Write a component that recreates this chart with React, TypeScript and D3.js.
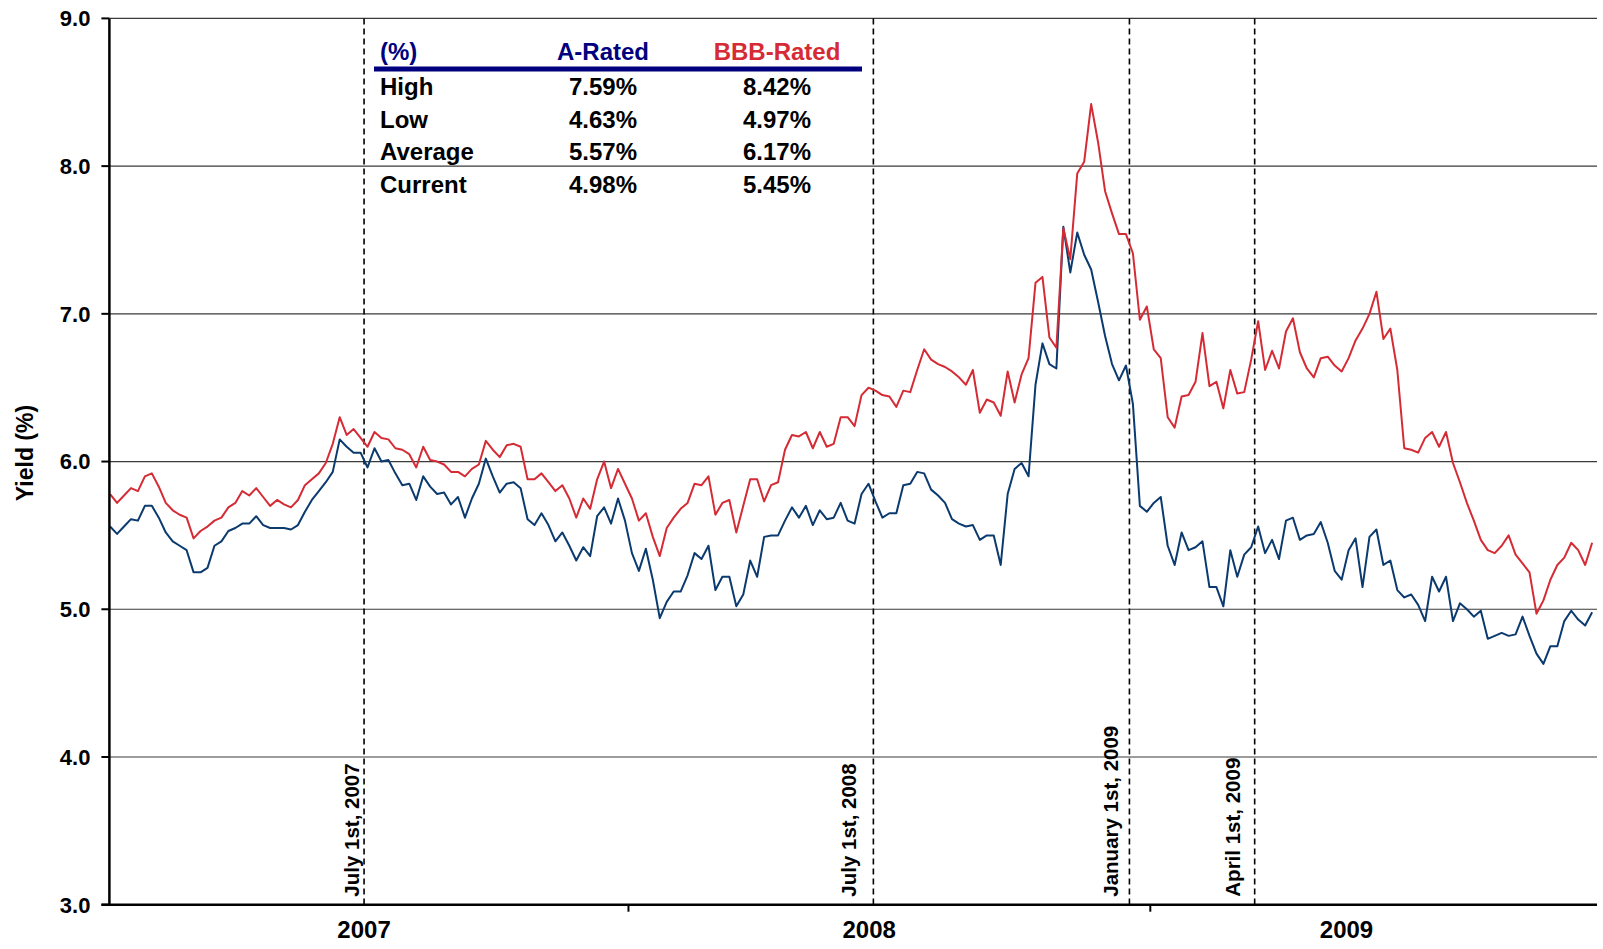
import React from "react";
import * as d3 from "d3";

// A-Rated / BBB-Rated corporate yields (%), one reading every 5 days from 30 Dec 2006
const startDate = new Date(2006, 11, 30, 12);
const stepDays = 5;

const aRated = [
  5.56, 5.51, 5.56, 5.61, 5.60, 5.70, 5.70, 5.62, 5.52, 5.46, 5.43, 5.40, 5.25, 5.25, 5.28, 5.43, 5.46, 5.53, 5.55, 5.58,
  5.58, 5.63, 5.57, 5.55, 5.55, 5.55, 5.54, 5.57, 5.66, 5.74, 5.80, 5.86, 5.93, 6.15, 6.10, 6.06, 6.06, 5.96,
  6.09, 6.00, 6.01, 5.92, 5.84, 5.85, 5.74, 5.90, 5.83, 5.78, 5.79, 5.71, 5.76, 5.62, 5.75, 5.85, 6.02, 5.90, 5.79, 5.85,
  5.86, 5.82, 5.61, 5.57, 5.65, 5.57, 5.46, 5.52, 5.43, 5.33, 5.42, 5.36, 5.63, 5.69, 5.58, 5.75, 5.60,
  5.38, 5.26, 5.41, 5.20, 4.94, 5.05, 5.12, 5.12, 5.23, 5.38, 5.34, 5.43, 5.13, 5.22, 5.22, 5.02, 5.10, 5.33, 5.22, 5.49,
  5.50, 5.50, 5.60, 5.69, 5.62, 5.70, 5.57, 5.67, 5.61, 5.62, 5.72, 5.60, 5.58, 5.78, 5.85, 5.73, 5.62,
  5.65, 5.65, 5.84, 5.85, 5.93, 5.92, 5.81, 5.77, 5.72, 5.61, 5.58, 5.56, 5.57, 5.47, 5.50, 5.50, 5.30, 5.78,
  5.95, 5.99, 5.90, 6.52, 6.80, 6.66, 6.63, 7.59, 7.28, 7.55, 7.40, 7.30, 7.08, 6.85, 6.66, 6.55, 6.65, 6.39, 5.70, 5.66,
  5.72, 5.76,
  5.43, 5.30, 5.52, 5.40, 5.42, 5.46, 5.15, 5.15, 5.02, 5.40, 5.22, 5.37, 5.42, 5.56, 5.38, 5.47, 5.34, 5.60, 5.62, 5.47,
  5.50, 5.51, 5.59, 5.45, 5.26, 5.20, 5.40, 5.48, 5.15, 5.49, 5.54,
  5.30, 5.33, 5.13, 5.08, 5.10, 5.03, 4.92, 5.22, 5.12, 5.22, 4.92, 5.04, 5.00, 4.95, 4.99, 4.80, 4.82, 4.84, 4.82, 4.83,
  4.95, 4.82, 4.70, 4.63, 4.75, 4.75, 4.92, 4.99, 4.93, 4.89, 4.98,
];

const bbbRated = [
  5.78, 5.72, 5.77, 5.82, 5.80, 5.90, 5.92, 5.83, 5.72, 5.67, 5.64, 5.62, 5.48, 5.53, 5.56, 5.60, 5.62, 5.69, 5.72, 5.80,
  5.77, 5.82, 5.76, 5.70, 5.74, 5.71, 5.69, 5.74, 5.84, 5.88, 5.92, 5.99, 6.12, 6.30, 6.18, 6.22, 6.16, 6.10,
  6.20, 6.16, 6.15, 6.09, 6.08, 6.05, 5.96, 6.10, 6.01, 6.00, 5.98, 5.93, 5.93, 5.90, 5.95, 5.98, 6.14, 6.08, 6.03, 6.11,
  6.12, 6.10, 5.88, 5.88, 5.92, 5.86, 5.80, 5.84, 5.75, 5.62, 5.75, 5.68, 5.88, 6.00, 5.82, 5.95, 5.85,
  5.75, 5.60, 5.65, 5.49, 5.36, 5.55, 5.62, 5.68, 5.72, 5.85, 5.84, 5.90, 5.64, 5.72, 5.74, 5.52, 5.70, 5.88, 5.88, 5.73,
  5.84, 5.86, 6.08, 6.18, 6.17, 6.20, 6.09, 6.20, 6.10, 6.12, 6.30, 6.30, 6.24, 6.45, 6.50, 6.48, 6.45,
  6.44, 6.37, 6.48, 6.47, 6.62, 6.76, 6.69, 6.66, 6.64, 6.61, 6.57, 6.52, 6.62, 6.33, 6.42, 6.40, 6.31, 6.61,
  6.40, 6.59, 6.70, 7.21, 7.25, 6.84, 6.77, 7.58, 7.37, 7.95, 8.03, 8.42, 8.16, 7.83, 7.68, 7.54, 7.54, 7.41, 6.96, 7.05,
  6.76, 6.70,
  6.30, 6.23, 6.44, 6.45, 6.54, 6.87, 6.51, 6.54, 6.36, 6.62, 6.46, 6.47, 6.69, 6.95, 6.62, 6.75, 6.63, 6.88, 6.97, 6.74,
  6.63, 6.57, 6.70, 6.71, 6.65, 6.61, 6.70, 6.82, 6.90, 7.00, 7.15,
  6.83, 6.90, 6.62, 6.09, 6.08, 6.06, 6.16, 6.20, 6.10, 6.20, 5.99, 5.86, 5.72, 5.60, 5.47, 5.40, 5.38, 5.43, 5.50, 5.37,
  5.31, 5.25, 4.97, 5.06, 5.20, 5.30, 5.35, 5.45, 5.40, 5.30, 5.45,
];

const yTicks = [3, 4, 5, 6, 7, 8, 9];
const axisTickDates = [new Date(2008, 0, 7), new Date(2009, 0, 16)];
const yearLabels = ["2007", "2008", "2009"];
const yearLabelDates = [new Date(2007, 6, 1), new Date(2008, 5, 28), new Date(2009, 5, 6)];

const eventLabels = ["July 1st, 2007", "July 1st, 2008", "January 1st, 2009", "April 1st, 2009"];
const eventDates = [new Date(2007, 6, 1), new Date(2008, 6, 1), new Date(2009, 0, 1), new Date(2009, 3, 1)];
const eventLabelDx = [-13, -25, -19, -22];

const statRows = ["High", "Low", "Average", "Current"];
const statsA = ["7.59%", "4.63%", "5.57%", "4.98%"];
const statsBBB = ["8.42%", "4.97%", "6.17%", "5.45%"];

const W = 1603;
const H = 949;
const plotLeft = 109.4;
const plotRight = 1597;
const plotTop = 18.4;
const plotBottom = 904.7;

const BLUE = "#0b3a6e";
const RED = "#d52b35";
const NAVY = "#00007f";
const FONT = "'Liberation Sans', Arial, Helvetica, sans-serif";

export default function App() {
  const x = d3
    .scaleTime()
    .domain([new Date(2006, 11, 30), new Date(2009, 11, 3)])
    .range([plotLeft, plotRight]);
  const y = d3.scaleLinear().domain([3, 9]).range([plotBottom, plotTop]);

  const dateAt = (i: number) => d3.timeDay.offset(startDate, i * stepDays);
  const line = d3
    .line<number>()
    .x((_, i) => x(dateAt(i)))
    .y((d) => y(d));

  return (
    <svg
      width={W}
      height={H}
      style={{ position: "absolute", left: 0, top: 0, background: "#fff" }}
      fontFamily={FONT}
    >
      {/* gridlines */}
      {yTicks.slice(1).map((t) => (
        <line key={t} x1={plotLeft} x2={plotRight} y1={y(t)} y2={y(t)} stroke="#3a3a3a" strokeWidth={1.2} />
      ))}

      {/* event markers */}
      {eventDates.map((d, i) => (
        <g key={eventLabels[i]}>
          <line
            x1={x(d)}
            x2={x(d)}
            y1={plotTop}
            y2={plotBottom}
            stroke="#000"
            strokeWidth={1.6}
            strokeDasharray="6,4"
          />
          <text
            transform={`translate(${x(d) + eventLabelDx[i] + 7.5},${plotBottom - 8}) rotate(-90)`}
            fontSize={20.5}
            fontWeight="bold"
            fill="#000"
          >
            {eventLabels[i]}
          </text>
        </g>
      ))}

      {/* series */}
      <path d={line(aRated) ?? ""} fill="none" stroke={BLUE} strokeWidth={2} strokeLinejoin="round" />
      <path d={line(bbbRated) ?? ""} fill="none" stroke={RED} strokeWidth={2} strokeLinejoin="round" />

      {/* y axis */}
      <line x1={plotLeft} x2={plotLeft} y1={plotTop} y2={plotBottom} stroke="#000" strokeWidth={2.5} />
      {yTicks.map((t) => (
        <g key={t}>
          <line x1={plotLeft - 8} x2={plotLeft} y1={y(t)} y2={y(t)} stroke="#000" strokeWidth={2} />
          <text x={plotLeft - 19} y={y(t)} dy="0.36em" textAnchor="end" fontSize={22} fontWeight="bold">
            {d3.format(".1f")(t)}
          </text>
        </g>
      ))}
      <text transform="translate(33,453) rotate(-90)" textAnchor="middle" fontSize={23} fontWeight="bold">
        Yield (%)
      </text>

      {/* x axis */}
      <line x1={plotLeft - 8} x2={plotRight} y1={plotBottom} y2={plotBottom} stroke="#000" strokeWidth={2.5} />
      {axisTickDates.map((d, i) => (
        <line key={i} x1={x(d)} x2={x(d)} y1={plotBottom} y2={plotBottom + 7} stroke="#000" strokeWidth={2} />
      ))}
      {yearLabelDates.map((d, i) => (
        <text key={yearLabels[i]} x={x(d)} y={plotBottom + 33} textAnchor="middle" fontSize={24} fontWeight="bold">
          {yearLabels[i]}
        </text>
      ))}

      {/* stats table */}
      <text x={380} y={60} fontSize={24} fontWeight="bold" fill={NAVY}>
        (%)
      </text>
      <text x={603} y={60} textAnchor="middle" fontSize={24} fontWeight="bold" fill={NAVY}>
        A-Rated
      </text>
      <text x={777} y={60} textAnchor="middle" fontSize={24} fontWeight="bold" fill={RED}>
        BBB-Rated
      </text>
      <line x1={374} x2={862} y1={69} y2={69} stroke={NAVY} strokeWidth={5} />
      {statRows.map((r, i) => (
        <g key={r} fontSize={24} fontWeight="bold" fill="#000">
          <text x={380} y={95 + i * 32.7}>
            {r}
          </text>
          <text x={603} y={95 + i * 32.7} textAnchor="middle">
            {statsA[i]}
          </text>
          <text x={777} y={95 + i * 32.7} textAnchor="middle">
            {statsBBB[i]}
          </text>
        </g>
      ))}
    </svg>
  );
}
